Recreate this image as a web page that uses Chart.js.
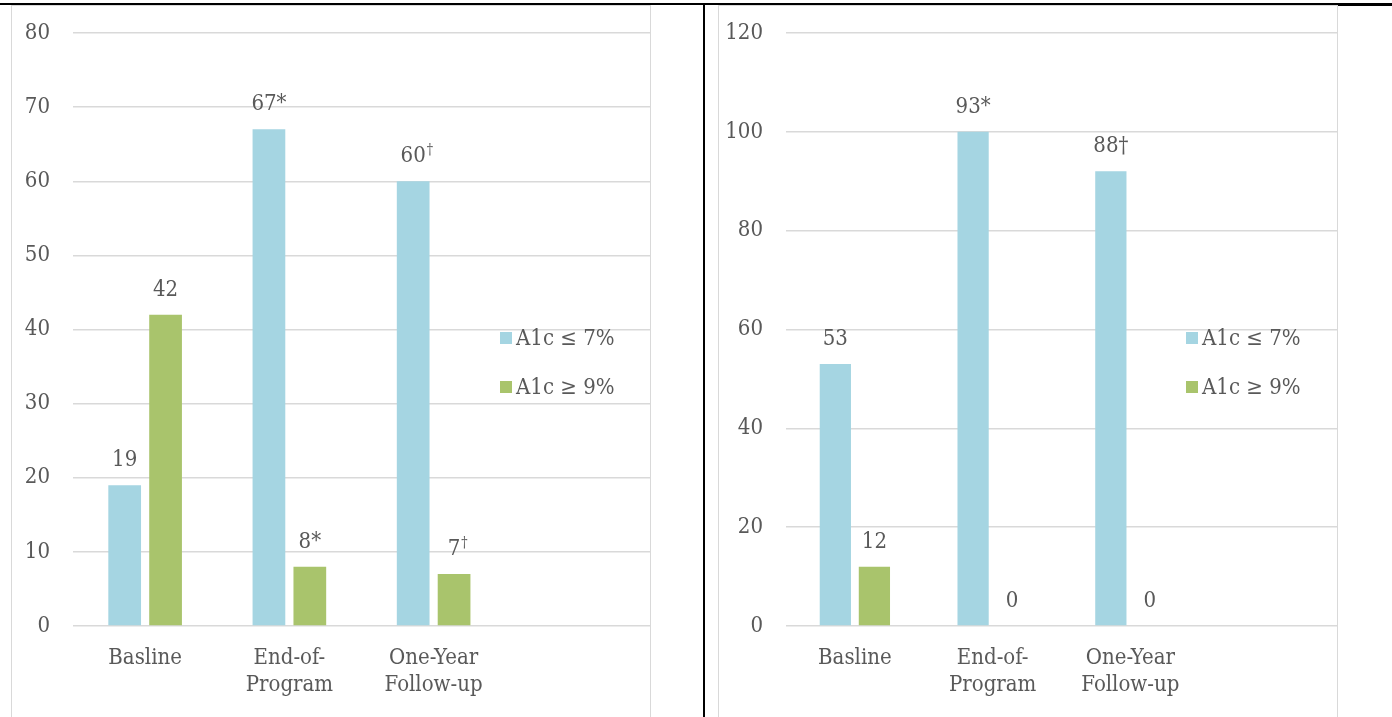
<!DOCTYPE html>
<html>
<head>
<meta charset="utf-8">
<script src="https://cdn.jsdelivr.net/npm/chart.js@4/dist/chart.umd.min.js"></script>
<style>
  html, body { margin: 0; padding: 0; background: #fff; overflow: hidden; }
  body { width: 1392px; height: 717px; position: relative; }
  .line { position: absolute; }
  .panel { position: absolute; }
</style>
</head>
<body>
<!-- page rules around the two panels -->
<div class="line" style="left:0;top:3px;width:1392px;height:2px;background:#000"></div>
<div class="line" style="left:1337px;top:4px;width:55px;height:2px;background:#000"></div>
<div class="line" style="left:703px;top:5px;width:2px;height:712px;background:#000"></div>

<!-- chart frames -->
<div class="line" style="left:11px;top:5px;width:640px;height:712px;border:1.5px solid #d9d9d9;border-bottom:none;box-sizing:border-box"></div>
<div class="line" style="left:718px;top:5px;width:620px;height:712px;border:1.5px solid #d9d9d9;border-bottom:none;box-sizing:border-box"></div>

<div class="panel" style="left:12px;top:6px;width:638px;height:711px"><canvas id="leftChart"></canvas></div>
<div class="panel" style="left:720px;top:6px;width:617px;height:711px"><canvas id="rightChart"></canvas></div>

<script>
// Categories (4th one is empty, leaves room for the legend)
const categories = ['Basline', ['End-of-', 'Program'], ['One-Year', 'Follow-up'], ''];
const seriesNames = ['A1c \u2264 7%', 'A1c \u2265 9%'];

// Left panel
const leftLow = [19, 67, 60, null];
const leftHigh = [42, 8, 7, null];
const leftLowText = ['19', '67*', '60^\u2020'];
const leftHighText = ['42', '8*', '7^\u2020'];
const leftMax = 80, leftStep = 10;

// Right panel
const rightLow = [53, 100, 92, null];
const rightHigh = [12, 0, 0, null];
const rightLowText = ['53', '93*', '88\u2020'];
const rightHighText = ['12', '0', '0'];
const rightMax = 120, rightStep = 20;

const blue = '#a5d5e2';
const green = '#a9c46c';
const textColor = '#595959';
const fontFamily = '"DejaVu Serif Condensed", "DejaVu Serif", serif';
const fontSize = 22;

// Draw the value text above each bar ("^" marks a superscript part)
const valueLabels = {
  id: 'valueLabels',
  afterDatasetsDraw(chart) {
    const ctx = chart.ctx;
    ctx.save();
    ctx.fillStyle = textColor;
    ctx.textAlign = 'left';
    ctx.textBaseline = 'alphabetic';
    chart.data.datasets.forEach((ds, i) => {
      const meta = chart.getDatasetMeta(i);
      ds.valueText.forEach((txt, j) => {
        const bar = meta.data[j];
        if (!txt || !bar) return;
        const parts = txt.split('^');
        ctx.font = fontSize + 'px ' + fontFamily;
        const w = ctx.measureText(parts[0]).width;
        const x0 = bar.x - w / 2;
        const y = bar.y - 19;
        ctx.fillText(parts[0], x0, y);
        if (parts[1]) {
          ctx.font = '14px ' + fontFamily;
          ctx.fillText(parts[1], x0 + w + 1, y - 8);
        }
      });
    });
    ctx.restore();
  }
};

// Legend drawn inside the empty 4th category
const sideLegend = {
  id: 'sideLegend',
  afterDraw(chart, args, opts) {
    const ctx = chart.ctx;
    ctx.save();
    ctx.font = fontSize + 'px ' + fontFamily;
    ctx.textBaseline = 'middle';
    ctx.textAlign = 'left';
    chart.data.datasets.forEach((ds, i) => {
      const y = opts.y + i * 49;
      ctx.fillStyle = ds.backgroundColor;
      ctx.fillRect(opts.x, y - 6, 12, 12);
      ctx.fillStyle = textColor;
      ctx.fillText(ds.label, opts.x + 16, y + 1);
    });
    ctx.restore();
  }
};

function makeChart(id, low, high, lowText, highText, max, step, axisWidth, legendX) {
  const ctx = document.getElementById(id).getContext('2d');
  return new Chart(ctx, {
    type: 'bar',
    data: {
      labels: categories,
      datasets: [
        { label: seriesNames[0], data: low, valueText: lowText, backgroundColor: blue },
        { label: seriesNames[1], data: high, valueText: highText, backgroundColor: green }
      ]
    },
    options: {
      responsive: true,
      maintainAspectRatio: false,
      animation: false,
      categoryPercentage: 0.567,
      barPercentage: 0.8,
      layout: { padding: { top: 27, left: 0, right: 0, bottom: 0 } },
      plugins: {
        legend: { display: false },
        tooltip: { enabled: false },
        sideLegend: { x: legendX, y: 332 }
      },
      scales: {
        x: {
          grid: { display: false, drawTicks: false },
          border: { display: false },
          ticks: {
            color: textColor,
            padding: 19,
            maxRotation: 0,
            autoSkip: false,
            font: { family: fontFamily, size: fontSize, lineHeight: 1.23 }
          },
          afterFit: s => { s.height = 91; s.paddingLeft = 0; s.paddingRight = 0; }
        },
        y: {
          min: 0,
          max: max,
          grid: { color: '#d9d9d9', lineWidth: 1.5, drawTicks: false },
          border: { display: false },
          ticks: {
            stepSize: step,
            color: textColor,
            padding: 23,
            font: { family: fontFamily, size: fontSize }
          },
          afterFit: s => { s.width = axisWidth; s.paddingTop = 0; s.paddingBottom = 0; }
        }
      }
    },
    plugins: [valueLabels, sideLegend]
  });
}

makeChart('leftChart', leftLow, leftHigh, leftLowText, leftHighText, leftMax, leftStep, 61, 488);
makeChart('rightChart', rightLow, rightHigh, rightLowText, rightHighText, rightMax, rightStep, 66, 466);
</script>
</body>
</html>
